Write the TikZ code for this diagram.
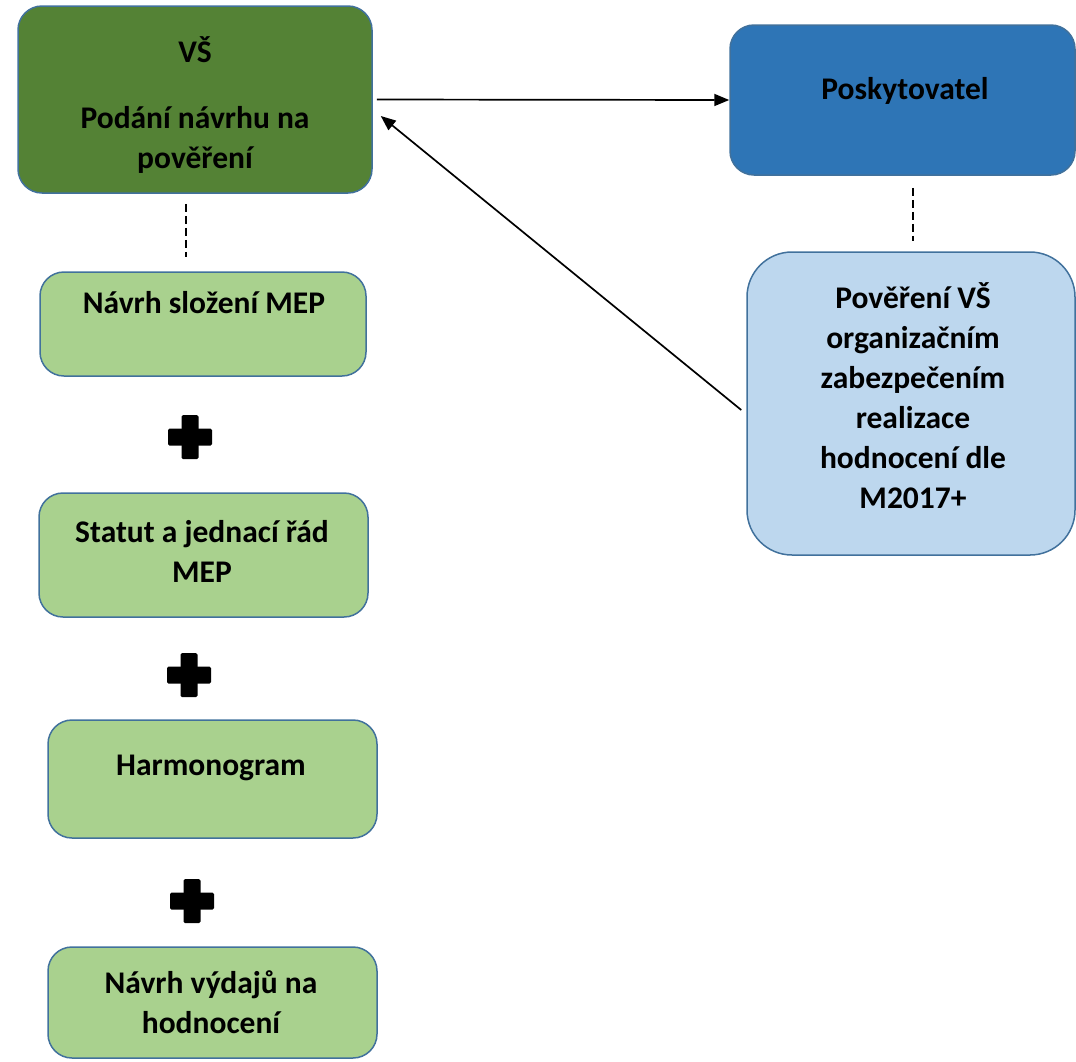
\documentclass[tikz,border=0pt]{standalone}
\usepackage{fontspec}
\setmainfont{Carlito}
\usetikzlibrary{arrows.meta}
\definecolor{dkgreen}{HTML}{548235}
\definecolor{ltgreen}{HTML}{A9D18E}
\definecolor{midblue}{HTML}{2E75B6}
\definecolor{ltblue}{HTML}{BDD7EE}
\definecolor{edgeblue}{HTML}{41719C}
\begin{document}
\begin{tikzpicture}[x=1pt,y=-1pt,
  box/.style={draw=edgeblue, line width=1.5pt, rounded corners=24pt, inner sep=0pt},
  lbl/.style={font=\fontsize{31.5}{40}\selectfont\bfseries, align=center, anchor=base, inner sep=0pt, text=black},
  plusnode/.style={minimum size=44pt, inner sep=0pt, path picture={
      \fill[black, rounded corners=1.5pt] ([xshift=-22pt,yshift=-8.5pt]path picture bounding box.center) rectangle ([xshift=22pt,yshift=8.5pt]path picture bounding box.center);
      \fill[black, rounded corners=1.5pt] ([xshift=-8.5pt,yshift=-22pt]path picture bounding box.center) rectangle ([xshift=8.5pt,yshift=22pt]path picture bounding box.center);}},
  conn/.style={line width=1.7pt, -{Triangle[length=15pt,width=12pt]}},
  dline/.style={line width=1.6pt, dash pattern=on 8pt off 4pt}
]
\useasboundingbox (0,0) rectangle (1076,1061);
% boxes
\node[box, fill=dkgreen, minimum width=354pt, minimum height=187pt] (vs) at (195,99.5) {};
\node[box, fill=midblue, minimum width=345pt, minimum height=150pt] (posk) at (902.5,100) {};
\node[box, fill=ltblue, rounded corners=45pt, minimum width=328pt, minimum height=303pt] (pov) at (911,403.5) {};
\node[box, fill=ltgreen, minimum width=326pt, minimum height=104pt] (m1) at (203,324) {};
\node[box, fill=ltgreen, minimum width=329pt, minimum height=124pt] (m2) at (203.5,555) {};
\node[box, fill=ltgreen, minimum width=329pt, minimum height=118pt] (m3) at (212.5,779) {};
\node[box, fill=ltgreen, minimum width=329pt, minimum height=111pt] (m4) at (212.5,1002.5) {};
% texts (base = baseline of last line)
\node[lbl] (tvs) at (195,62) {VŠ};
\node[lbl] (tvs2) at (195,168) {Podání návrhu na\\pověření};
\node[lbl] (tposk) at (905,99) {Poskytovatel};
\node[lbl] (tpov) at (913,508) {Pověření VŠ\\organizačním\\zabezpečením\\realizace\\hodnocení dle\\M2017+};
\node[lbl] (tm1) at (204,313) {Návrh složení MEP};
\node[lbl] (tm2) at (202,582) {Statut a jednací řád\\MEP};
\node[lbl] (tm3) at (211,775) {Harmonogram};
\node[lbl] (tm4) at (211,1033) {Návrh výdajů na\\hodnocení};
% plus signs
\node[plusnode] (p1) at (190,437) {};
\node[plusnode] (p2) at (189,675) {};
\node[plusnode] (p3) at (192,901) {};
% connectors
\draw[conn] ([xshift=4pt]vs.east) -- (posk.west);
\draw[conn] ([xshift=-5pt,yshift=-6.5pt]pov.west) -- ([xshift=8pt,yshift=-16.5pt]vs.east);
\draw[dline] ([xshift=-9pt,yshift=-10pt]vs.south) -- ([xshift=-17pt,yshift=14pt]m1.north);
\draw[dline] ([xshift=10.5pt,yshift=-12pt]posk.south) -- ([xshift=2pt,yshift=10pt]pov.north);
\end{tikzpicture}
\end{document}
